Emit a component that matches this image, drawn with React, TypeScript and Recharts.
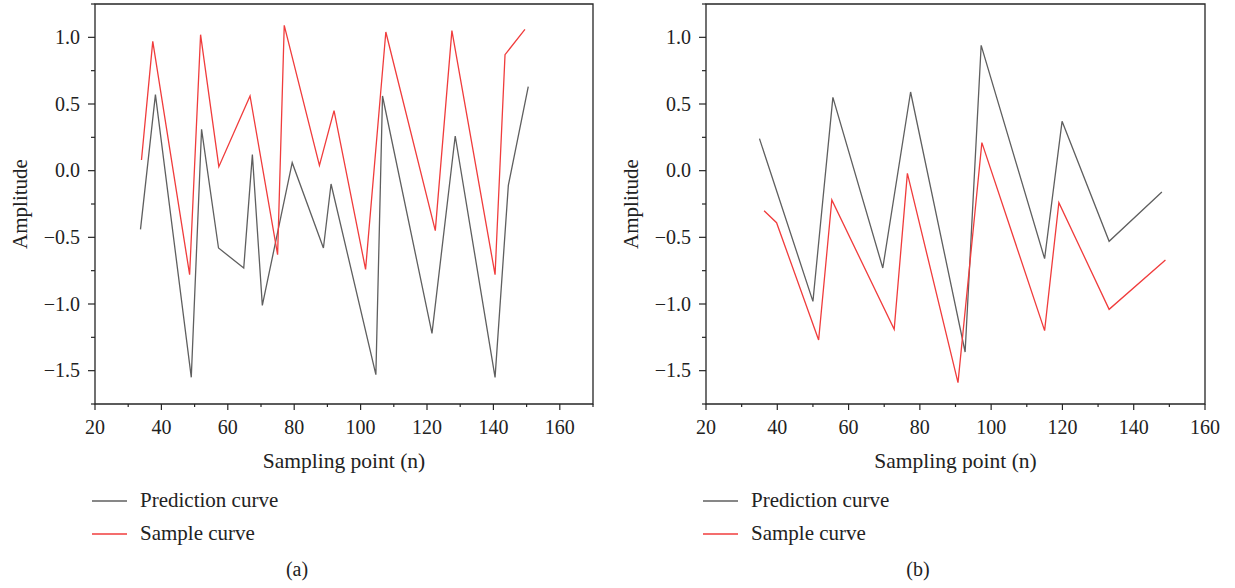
import React from 'react'
import { LineChart, Line, XAxis, YAxis, ReferenceArea, Legend, Label } from 'recharts'

const FONT = '"Liberation Serif", "Times New Roman", serif'
const GREY = '#5f5f5f'
const RED = '#f03c3c'
const INK = '#262626'

// panel (a)
const predAX = [33.7, 38.2, 49.0, 52.1, 57.2, 64.8, 67.4, 70.4, 79.4, 88.8, 91.1, 104.6, 106.6, 121.5, 128.5, 140.5, 144.5, 150.5]
const predAY = [-0.44, 0.57, -1.55, 0.31, -0.58, -0.73, 0.12, -1.01, 0.06, -0.58, -0.1, -1.53, 0.56, -1.22, 0.26, -1.55, -0.11, 0.63]
const sampAX = [34.0, 37.4, 48.5, 51.8, 57.3, 66.7, 75.0, 77.0, 87.6, 92.0, 101.5, 107.6, 122.5, 127.5, 140.5, 143.5, 149.5]
const sampAY = [0.08, 0.97, -0.78, 1.02, 0.03, 0.56, -0.63, 1.09, 0.04, 0.45, -0.74, 1.04, -0.45, 1.05, -0.78, 0.87, 1.06]

// panel (b)
const predBX = [35.0, 50.0, 55.6, 69.6, 77.4, 92.7, 97.2, 115.0, 119.9, 133.1, 147.9]
const predBY = [0.24, -0.98, 0.55, -0.73, 0.59, -1.36, 0.94, -0.66, 0.37, -0.53, -0.16]
const sampBX = [36.3, 39.8, 51.6, 55.3, 72.8, 76.5, 90.7, 97.4, 115.0, 119.0, 133.1, 148.9]
const sampBY = [-0.3, -0.39, -1.27, -0.22, -1.19, -0.02, -1.59, 0.21, -1.2, -0.24, -1.04, -0.67]

const yTicks = [-1.75, -1.5, -1.25, -1, -0.75, -0.5, -0.25, 0, 0.25, 0.5, 0.75, 1, 1.25]
const xTicksA = [20, 30, 40, 50, 60, 70, 80, 90, 100, 110, 120, 130, 140, 150, 160, 170]
const xTicksB = [20, 30, 40, 50, 60, 70, 80, 90, 100, 110, 120, 130, 140, 150, 160]

const toPoints = (xs: number[], ys: number[]) => xs.map((x, i) => ({ x, y: ys[i] }))

const fmtY = (v: number) => v.toFixed(1).replace('-', '\u2212')

const YTick = (props: any) => {
  const { x, y, payload } = props
  const v = payload.value
  const major = Math.abs(v * 2 - Math.round(v * 2)) < 1e-6
  return (
    <g>
      <line x1={x} x2={x - (major ? 7 : 4)} y1={y} y2={y} stroke={INK} strokeWidth={1.2} />
      {major && (
        <text x={x - 15} y={y + 6.5} textAnchor="end" fontFamily={FONT} fontSize={20} fill="#222">
          {fmtY(v)}
        </text>
      )}
    </g>
  )
}

const XTick = (props: any) => {
  const { x, y, payload } = props
  const v = payload.value
  const major = v % 20 === 0
  return (
    <g>
      <line x1={x} x2={x} y1={y} y2={y + (major ? 6 : 3)} stroke={INK} strokeWidth={1.2} />
      {major && (
        <text x={x} y={y + 30} textAnchor="middle" fontFamily={FONT} fontSize={20} fill="#222">
          {v}
        </text>
      )}
    </g>
  )
}

const renderLegend = (props: any) => (
  <div style={{ fontFamily: FONT, fontSize: 21, color: '#222' }}>
    {(props.payload || []).map((e: any) => (
      <div key={e.value} style={{ display: 'flex', alignItems: 'center', height: 33 }}>
        <svg width={48} height={10}>
          <line x1={0} x2={35} y1={5} y2={5} stroke={e.color} strokeWidth={1.4} />
        </svg>
        <span>{e.value}</span>
      </div>
    ))}
  </div>
)

interface PanelProps {
  left: number
  width: number
  yWidth: number
  marginRight: number
  xMax: number
  xTicks: number[]
  pred: { x: number; y: number }[]
  samp: { x: number; y: number }[]
}

const Panel = ({ left, width, yWidth, marginRight, xMax, xTicks, pred, samp }: PanelProps) => (
  <div style={{ position: 'absolute', left, top: 0 }}>
    <LineChart width={width} height={588} margin={{ top: 4, right: marginRight, left: 0, bottom: 154 }}>
      <XAxis
        type="number"
        dataKey="x"
        domain={[20, xMax]}
        ticks={xTicks}
        interval={0}
        allowDataOverflow
        axisLine={false}
        tickLine={false}
        tickSize={0}
        tickMargin={0}
        height={30}
        tick={<XTick />}
      >
        <Label
          content={(p: any) => {
            const vb = p.viewBox
            return (
              <text x={vb.x + vb.width / 2} y={vb.y + 64} textAnchor="middle" fontFamily={FONT} fontSize={21.5} fill="#222">
                Sampling point (n)
              </text>
            )
          }}
        />
      </XAxis>
      <YAxis
        type="number"
        domain={[-1.75, 1.25]}
        ticks={yTicks}
        interval={0}
        allowDataOverflow
        axisLine={false}
        tickLine={false}
        tickSize={0}
        tickMargin={0}
        width={yWidth}
        tick={<YTick />}
      >
        <Label
          content={(p: any) => {
            const vb = p.viewBox
            const cx = vb.x + vb.width - 75
            const cy = vb.y + vb.height / 2
            return (
              <text
                x={cx}
                y={cy}
                transform={`rotate(-90 ${cx} ${cy})`}
                textAnchor="middle"
                dominantBaseline="central"
                fontFamily={FONT}
                fontSize={21}
                fill="#222"
              >
                Amplitude
              </text>
            )
          }}
        />
      </YAxis>
      <ReferenceArea x1={20} x2={xMax} y1={-1.75} y2={1.25} fill="none" stroke={INK} strokeWidth={1.3} ifOverflow="visible" />
      <Line data={pred} dataKey="y" name="Prediction curve" stroke={GREY} strokeWidth={1.3} dot={false} type="linear" isAnimationActive={false} />
      <Line data={samp} dataKey="y" name="Sample curve" stroke={RED} strokeWidth={1.3} dot={false} type="linear" isAnimationActive={false} />
      <Legend
        layout="vertical"
        align="center"
        verticalAlign="middle"
        content={renderLegend}
        wrapperStyle={{ position: 'absolute', left: yWidth - 3, top: 484, width: 260, height: 70 }}
      />
    </LineChart>
  </div>
)

const Caption = ({ cx, text }: { cx: number; text: string }) => (
  <div
    style={{
      position: 'absolute',
      left: cx - 30,
      width: 60,
      top: 558,
      textAlign: 'center',
      fontFamily: FONT,
      fontSize: 20,
      color: '#222',
    }}
  >
    {text}
  </div>
)

export default function App() {
  return (
    <div style={{ position: 'absolute', left: 0, top: 0, width: 1235, height: 588, background: '#fff', overflow: 'hidden' }}>
      <Panel
        left={0}
        width={617}
        yWidth={95}
        marginRight={24}
        xMax={170}
        xTicks={xTicksA}
        pred={toPoints(predAX, predAY)}
        samp={toPoints(sampAX, sampAY)}
      />
      <Panel
        left={617}
        width={618}
        yWidth={89}
        marginRight={30}
        xMax={160}
        xTicks={xTicksB}
        pred={toPoints(predBX, predBY)}
        samp={toPoints(sampBX, sampBY)}
      />
      <Caption cx={297} text="(a)" />
      <Caption cx={918} text="(b)" />
    </div>
  )
}
